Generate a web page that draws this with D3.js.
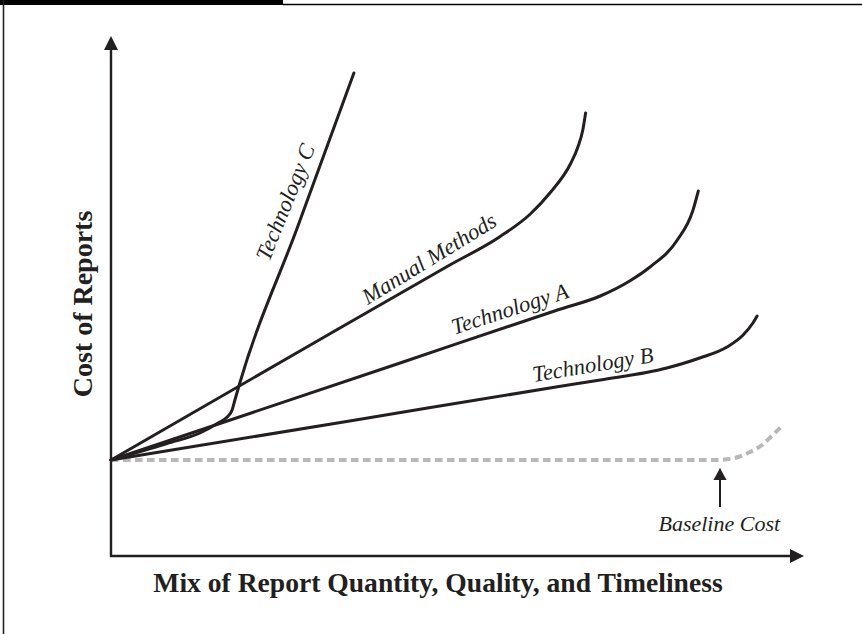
<!DOCTYPE html>
<html>
<head>
<meta charset="utf-8">
<script src="https://cdn.jsdelivr.net/npm/d3@7"></script>
<style>
  html, body { margin: 0; padding: 0; background: #fff; }
  svg { display: block; }
</style>
</head>
<body>
<svg id="chart" width="862" height="634"></svg>
<script>
// ---- Data (conceptual units: x 0..100, y 0..100) ----
const techC = [[0,19.2],[8.0,22.5],[12.7,24.6],[15.3,26.6],[16.6,27.8],[17.3,29.2],[17.7,31.2],[18.4,34.6],[26.6,65.6],[34.7,96.6]];
const manual = [[0,19.2],[27,41],[48.4,58.2],[55.6,63.9],[59.9,68.4],[62.7,72.6],[65.7,78.6],[66.7,81.8],[67.4,85.2],[67.8,88.6]];
const techA = [[0,19.2],[41.3,38.6],[64,49.3],[69.9,52],[74.1,55],[77,57.8],[80.9,63.2],[83.1,69.0],[83.9,73]];
const techB = [[0,19.2],[34.1,27],[64,33.9],[69.9,35.2],[79.4,37.6],[84.1,39.6],[88,41.8],[90.3,44.2],[91.7,46.6],[92.3,48]];
const baseline = [[0,19.2],[41.3,19.2],[86.3,19.2],[89.1,19.6],[91.3,20.8],[93,22.2],[94.1,23.6],[95.7,25.8]];

const seriesNames = ["Technology C","Manual Methods","Technology A","Technology B"];
const seriesData = [techC, manual, techA, techB];
// label anchor (data units) and rotation for each series label
const labelX = [25.9, 46, 57.3, 69];
const labelY = [70.2, 58.2, 48, 36.8];
const labelAngle = [-68, -31.5, -18, -9.5];

const baselineLabel = "Baseline Cost";
const baselineArrowX = 87.0;
const baselineArrowY = [9.8, 17.6];
const baselineLabelPos = [86.9, 5];

const xTitle = "Mix of Report Quantity, Quality, and Timeliness";
const yTitle = "Cost of Reports";

// ---- Scales ----
const svg = d3.select("#chart");
const x = d3.scaleLinear().domain([0,100]).range([111, 811]);
const y = d3.scaleLinear().domain([0,100]).range([556, 56]);
const ink = "#231f20";

// ---- Frame ----
svg.append("rect").attr("x",0).attr("y",0).attr("width",283).attr("height",5).attr("fill","#000");
svg.append("line").attr("x1",283).attr("x2",862).attr("y1",4.5).attr("y2",4.5).attr("stroke","#000").attr("stroke-width",1.5);
svg.append("line").attr("x1",3.5).attr("x2",3.5).attr("y1",0).attr("y2",634).attr("stroke","#222").attr("stroke-width",1.6);

// ---- Axes ----
const x0 = x(0), y0 = y(0);
const yTop = 36, xRight = 804;
svg.append("line").attr("x1",x0).attr("x2",x0).attr("y1",y0+1).attr("y2",yTop+10)
  .attr("stroke",ink).attr("stroke-width",2.4);
svg.append("path").attr("d",`M${x0-7},${yTop+14}L${x0+7},${yTop+14}L${x0},${yTop}Z`).attr("fill",ink);
svg.append("line").attr("x1",x0-1).attr("x2",xRight-10).attr("y1",y0).attr("y2",y0)
  .attr("stroke",ink).attr("stroke-width",2.4);
svg.append("path").attr("d",`M${xRight-14},${y0-7}L${xRight-14},${y0+7}L${xRight},${y0}Z`).attr("fill",ink);

// ---- Lines ----
const line = d3.line().x(d=>x(d[0])).y(d=>y(d[1])).curve(d3.curveMonotoneX);

svg.append("path").datum(baseline).attr("d",line).attr("fill","none")
  .attr("stroke","#b8b8b8").attr("stroke-width",4).attr("stroke-dasharray","7.5,4.5");

seriesData.forEach(s=>{
  svg.append("path").datum(s).attr("d",line).attr("fill","none")
    .attr("stroke",ink).attr("stroke-width",3).attr("stroke-linejoin","round").attr("stroke-linecap","round");
});

// ---- Series labels ----
seriesNames.forEach((name,i)=>{
  const px = x(labelX[i]), py = y(labelY[i]);
  svg.append("text").text(name)
    .attr("transform",`translate(${px},${py}) rotate(${labelAngle[i]})`)
    .attr("text-anchor","middle")
    .attr("font-family","'Liberation Serif', 'Times New Roman', serif")
    .attr("font-style","italic").attr("font-size",22.5).attr("fill",ink);
});

// ---- Baseline arrow and label ----
const ax = x(baselineArrowX);
svg.append("line").attr("x1",ax).attr("x2",ax).attr("y1",y(baselineArrowY[0])).attr("y2",y(baselineArrowY[1])+10)
  .attr("stroke",ink).attr("stroke-width",2);
svg.append("path").attr("d",`M${ax-6.5},${y(baselineArrowY[1])+12}L${ax+6.5},${y(baselineArrowY[1])+12}L${ax},${y(baselineArrowY[1])}Z`).attr("fill",ink);
svg.append("text").text(baselineLabel)
  .attr("x",x(baselineLabelPos[0])).attr("y",y(baselineLabelPos[1]))
  .attr("text-anchor","middle")
  .attr("font-family","'Liberation Serif', 'Times New Roman', serif")
  .attr("font-style","italic").attr("font-size",22).attr("fill",ink);

// ---- Axis titles ----
svg.append("text").text(xTitle)
  .attr("x",438).attr("y",592).attr("text-anchor","middle")
  .attr("font-family","'Liberation Serif', 'Times New Roman', serif")
  .attr("font-weight","bold").attr("font-size",27.6).attr("fill",ink);
svg.append("text").text(yTitle)
  .attr("transform","translate(92,304) rotate(-90)").attr("text-anchor","middle")
  .attr("font-family","'Liberation Serif', 'Times New Roman', serif")
  .attr("font-weight","bold").attr("font-size",28).attr("fill",ink);
</script>
</body>
</html>
